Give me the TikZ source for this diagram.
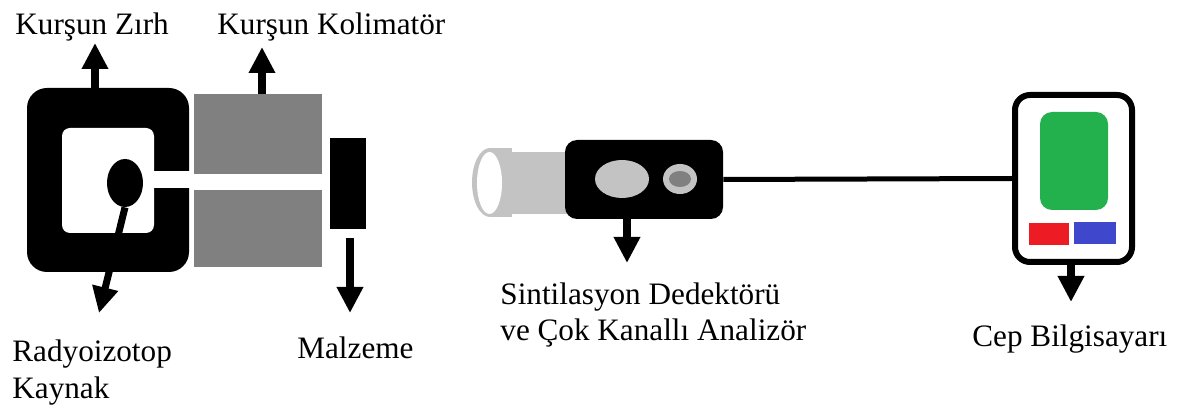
\documentclass[tikz,border=0pt]{standalone}
\usepackage{fontspec}
\setmainfont{Liberation Serif}
\usetikzlibrary{arrows.meta,shapes.geometric}

\definecolor{colgray}{HTML}{808080}
\definecolor{tubegray}{HTML}{C3C3C3}
\definecolor{pdagreen}{HTML}{22B14C}
\definecolor{pdared}{HTML}{ED1C24}
\definecolor{pdablue}{HTML}{3F48CC}

\begin{document}
\begin{tikzpicture}[
    x=0.5pt, y=-0.5pt,
    lbl/.style={inner sep=0pt, anchor=base west, align=left,
                font=\fontsize{15.6}{18}\selectfont},
    ptr/.style={-{Triangle[width=12.5pt,length=13pt]}, line width=4pt},
    blk/.style={rectangle, inner sep=0pt, fill=black},
    colblk/.style={rectangle, inner sep=0pt, fill=colgray,
                   minimum width=64pt},
    oval/.style={ellipse, inner sep=0pt}
]
\useasboundingbox (0,0) rectangle (1189,406);

%% Lead shield with source inside %%
\node[blk, rounded corners=10pt, minimum width=81pt, minimum height=92pt]
    (shield) at (108,180) {};
\node[rectangle, fill=white, rounded corners=4pt, inner sep=0pt,
      minimum width=46pt, minimum height=52.5pt] (hole) at (108,180.5) {};
\fill[white] (150,171) rectangle (193,188);
\node[oval, fill=black, minimum width=18pt, minimum height=24pt]
    (source) at (125,183) {};

%% Collimator and sample %%
\node[colblk, minimum height=40pt]   (colup) at (258,134) {};
\node[colblk, minimum height=38.5pt] (coldn) at (258,228.5) {};
\node[blk, minimum width=18pt, minimum height=45.5pt] (mat) at (348,183.5) {};

%% Detector + MCA %%
\fill[tubegray] (490,182.5) ellipse [x radius=9pt, y radius=17.25pt];
\fill[tubegray] (490,148) rectangle (512,217);
\fill[tubegray] (510,152) rectangle (570,214);
\fill[white] (489.5,183) ellipse [x radius=6.25pt, y radius=15.5pt];
\node[blk, rounded corners=6pt, minimum width=79pt, minimum height=39.5pt]
    (det) at (644,179.5) {};
\node[oval, fill=tubegray, minimum width=27pt, minimum height=19pt]
    (window) at (622,179) {};
\node[oval, fill=tubegray, minimum width=17pt, minimum height=15pt]
    (led) at (680,179) {};
\node[oval, fill=colgray, minimum width=11pt, minimum height=8pt]
    (ledin) at (led.center) {};

%% Pocket PC %%
\node[draw, line width=3pt, rounded corners=7.5pt, inner sep=0pt,
      minimum width=58.5pt, minimum height=83.5pt] (pda) at (1073.5,178.5) {};
\node[rectangle, fill=pdagreen, rounded corners=6pt, inner sep=0pt,
      minimum width=34pt, minimum height=49pt] (screen) at (1074,161) {};
\node[rectangle, fill=pdared, inner sep=0pt,
      minimum width=20pt, minimum height=11pt] (redkey) at (1049,234) {};
\node[rectangle, fill=pdablue, inner sep=0pt,
      minimum width=21pt, minimum height=11pt] (bluekey) at (1095,233) {};

% cable
\draw[line width=2.5pt] (det.east) -- (pda.west);

%% Labels (two-line ones sit on their last baseline) %%
\node[lbl] (zirhlbl)   at (15,35)   {Kurşun Zırh};
\node[lbl] (kollbl)    at (217,35)  {Kurşun Kolimatör};
\node[lbl] (kaynaklbl) at (12,398)  {Radyoizotop\\Kaynak};
\node[lbl] (malzlbl)   at (297,358) {Malzeme};
\node[lbl] (detlbl)    at (500,341) {Sintilasyon Dedektörü\\ve Çok Kanallı Analizör};
\node[lbl] (ceplbl)    at (972,347) {Cep Bilgisayarı};

%% Pointers %%
\coordinate (zirhtip) at (95,43);
\coordinate (koltip)  at (262,47);
\coordinate (srctip)  at (99,313);
\coordinate (mattip)  at (350,313);
\coordinate (dettip)  at (627,263);
\coordinate (ceptip)  at (1071,302);

\draw[ptr] (zirhtip |- shield.north) -- (zirhtip);
\draw[ptr] (koltip |- colup.north) -- (koltip);
\draw[ptr, line width=3.5pt] (source.south) -- (srctip);
\draw[ptr, shorten <=4.5pt] (mattip |- mat.south) -- (mattip);
\draw[ptr] (dettip |- det.south) -- (dettip);
\draw[ptr] (ceptip |- pda.south) -- (ceptip);

\end{tikzpicture}
\end{document}
